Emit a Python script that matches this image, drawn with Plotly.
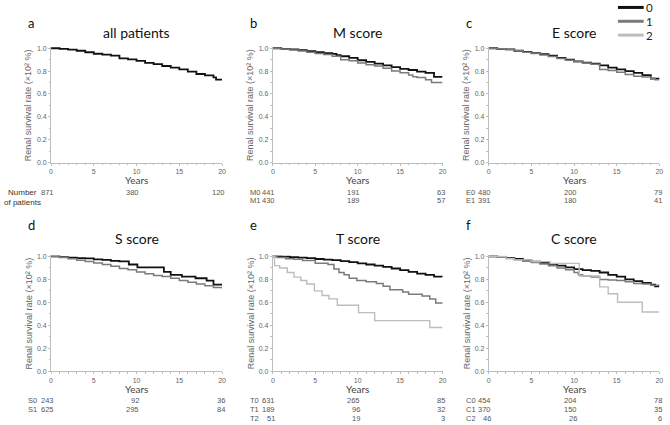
import plotly.graph_objects as go

W, H = 670, 425

# ---------------- data ----------------
years_ticks = [0, 5, 10, 15, 20]
risk_times = [0, 10, 20]

all_t = [0, 1, 2, 3, 4, 5, 6, 7, 8, 9, 10, 11, 12, 13, 14, 15, 16, 17, 18, 19, 19.3, 20]
all_s = [1.0, 0.995, 0.988, 0.978, 0.965, 0.952, 0.945, 0.935, 0.912, 0.902, 0.89, 0.872, 0.862, 0.845, 0.83, 0.815, 0.795, 0.775, 0.762, 0.745, 0.725, 0.725]

m0_t = [0, 1, 2, 3, 4, 5, 6, 7, 7.5, 8, 9, 10, 11, 12, 13, 14, 15, 16, 17, 18, 19, 20]
m0_s = [1, 0.995, 0.99, 0.983, 0.975, 0.965, 0.958, 0.95, 0.94, 0.93, 0.915, 0.895, 0.88, 0.865, 0.85, 0.835, 0.82, 0.81, 0.795, 0.785, 0.75, 0.75]
m1_t = [0, 1, 2, 3, 4, 5, 6, 7, 8, 9, 10, 11, 12, 13, 14, 15, 16, 16.5, 17, 18, 18.7, 20]
m1_s = [1, 0.993, 0.985, 0.975, 0.965, 0.955, 0.945, 0.93, 0.9, 0.89, 0.87, 0.855, 0.845, 0.825, 0.8, 0.785, 0.765, 0.75, 0.745, 0.725, 0.70, 0.70]

e0_t = [0, 1, 2, 3, 4, 5, 6, 7, 8, 9, 10, 11, 12, 13, 14, 15, 16, 17, 18, 19, 20]
e0_s = [1, 0.995, 0.99, 0.978, 0.968, 0.958, 0.948, 0.935, 0.915, 0.9, 0.885, 0.875, 0.865, 0.85, 0.83, 0.815, 0.8, 0.785, 0.765, 0.735, 0.73]
e1_t = [0, 1, 2, 3, 4, 5, 6, 7, 8, 9, 10, 11, 12, 13, 14, 15, 16, 17, 18, 19, 19.5, 20]
e1_s = [1, 0.995, 0.99, 0.978, 0.965, 0.955, 0.94, 0.928, 0.91, 0.895, 0.882, 0.87, 0.86, 0.815, 0.805, 0.79, 0.77, 0.755, 0.748, 0.738, 0.725, 0.725]

s0_t = [0, 1, 2, 3, 4, 5, 6, 7, 8, 9.1, 10.1, 11, 12, 13.2, 14, 15.3, 16.9, 18.2, 19, 20]
s0_s = [1, 0.995, 0.99, 0.985, 0.983, 0.975, 0.97, 0.962, 0.958, 0.93, 0.905, 0.905, 0.905, 0.865, 0.84, 0.825, 0.81, 0.79, 0.755, 0.755]
s1_t = [0, 1, 2, 3, 4, 5, 6, 7, 8, 9, 10, 11, 12, 13, 14, 15, 16, 17, 18, 19, 20]
s1_s = [1, 0.99, 0.98, 0.968, 0.955, 0.942, 0.93, 0.915, 0.895, 0.885, 0.865, 0.85, 0.835, 0.825, 0.81, 0.79, 0.775, 0.76, 0.745, 0.73, 0.72]

t0_t = [0, 1, 2, 3, 4, 5, 6, 7, 8, 9, 10, 11, 12, 13, 14, 15, 16, 17, 18, 19, 20]
t0_s = [1, 0.998, 0.995, 0.99, 0.985, 0.978, 0.972, 0.968, 0.96, 0.95, 0.94, 0.93, 0.92, 0.91, 0.895, 0.88, 0.865, 0.85, 0.84, 0.825, 0.82]
t1_t = [0, 0.5, 1.5, 2.5, 3.5, 5, 6.5, 7.2, 7.8, 8.4, 9, 9.9, 11, 12.2, 13, 13.8, 15.3, 16, 17.6, 18.5, 19.2, 20]
t1_s = [1, 0.99, 0.98, 0.975, 0.965, 0.94, 0.93, 0.89, 0.86, 0.84, 0.81, 0.79, 0.78, 0.765, 0.74, 0.71, 0.69, 0.67, 0.655, 0.63, 0.595, 0.59]
t2_t = [0, 0.2, 0.8, 1.7, 2.5, 3.3, 4.0, 4.9, 5.8, 6.6, 7.6, 10.1, 12.0, 18.5, 20]
t2_s = [1, 0.92, 0.90, 0.86, 0.82, 0.79, 0.76, 0.70, 0.66, 0.63, 0.575, 0.51, 0.44, 0.38, 0.38]

c0_t = [0, 1, 2, 3, 4, 5, 6, 7, 8, 9, 10, 11, 12, 13, 14, 15, 16, 17, 18, 19, 19.5, 20]
c0_s = [1, 0.995, 0.988, 0.978, 0.965, 0.955, 0.945, 0.935, 0.92, 0.905, 0.89, 0.88, 0.875, 0.86, 0.84, 0.825, 0.8, 0.785, 0.77, 0.755, 0.74, 0.74]
c1_t = [0, 1, 2, 3, 4, 5, 6, 7, 8, 9, 10, 10.5, 11, 12, 13, 14, 15, 16, 17, 18, 19, 20]
c1_s = [1, 0.993, 0.985, 0.972, 0.96, 0.948, 0.935, 0.92, 0.9, 0.885, 0.86, 0.84, 0.83, 0.82, 0.80, 0.795, 0.79, 0.78, 0.765, 0.76, 0.75, 0.745]
c2_t = [0, 2, 3, 5, 7.2, 10.6, 13, 14, 15.1, 18, 20]
c2_s = [1, 0.98, 0.97, 0.955, 0.94, 0.83, 0.735, 0.675, 0.60, 0.515, 0.515]

panel_letters = ["a", "b", "c", "d", "e", "f"]
panel_titles = ["all patients", "M score", "E score", "S score", "T score", "C score"]

risk_labels = [["Number"], ["M0", "M1"], ["E0", "E1"], ["S0", "S1"], ["T0", "T1", "T2"], ["C0", "C1", "C2"]]
risk_all = [[871, 380, 120]]
risk_m = [[441, 191, 63], [430, 189, 57]]
risk_e = [[480, 200, 79], [391, 180, 41]]
risk_s = [[243, 92, 36], [625, 295, 84]]
risk_tt = [[631, 265, 85], [189, 96, 32], [51, 19, 3]]
risk_c = [[454, 204, 78], [370, 150, 35], [46, 26, 6]]

legend_labels = ["0", "1", "2"]

# ---------------- styling ----------------
COLORS = ["#111111", "#7a7a7a", "#bdbdbd"]
WIDTHS = [1.8, 1.5, 1.4]
AXC = "#bdbdbd"
TXT = "#666666"
FONT = "Liberation Sans"
TFONT = "Lato"

cols = [(49.5, 222.0), (273.3, 444.5), (491.2, 663.3)]
rows = [(46.8, 162.5), (257.5, 373.5)]  # (px of 1.0, px of 0.0)
YTOP = 1.01

curves = [
    [(all_t, all_s)],
    [(m0_t, m0_s), (m1_t, m1_s)],
    [(e0_t, e0_s), (e1_t, e1_s)],
    [(s0_t, s0_s), (s1_t, s1_s)],
    [(t0_t, t0_s), (t1_t, t1_s), (t2_t, t2_s)],
    [(c0_t, c0_s), (c1_t, c1_s), (c2_t, c2_s)],
]
risks = [risk_all, risk_m, risk_e, risk_s, risk_tt, risk_c]

fig = go.Figure()
annotations = []
shapes = []
layout = {}


def ann(text, x, y, size, color, family, xanchor="center", xref="paper", xshift=0, angle=0):
    return dict(text=text, x=x, y=y, xref=xref, yref="paper", showarrow=False,
                xanchor=xanchor, yanchor="middle", xshift=xshift, textangle=angle,
                font=dict(size=size, color=color, family=family))


for i in range(6):
    r, c = divmod(i, 3)
    x0p, x1p = cols[c]
    y1p, y0p = rows[r]
    ytopp = y1p - (YTOP - 1.0) * (y0p - y1p)
    idx = "" if i == 0 else str(i + 1)
    xa, ya = "x" + idx, "y" + idx
    layout["xaxis" + idx] = dict(
        domain=[x0p / W, x1p / W], anchor=ya, range=[0, 20],
        showline=True, linecolor=AXC, linewidth=1, ticks="outside", ticklen=2,
        tickcolor=AXC, tickvals=years_ticks, tickfont=dict(size=7, color=TXT, family=FONT),
        minor=dict(ticks="outside", ticklen=1.5, tickcolor=AXC, dtick=1),
        showgrid=False, zeroline=False, fixedrange=True,
    )
    layout["yaxis" + idx] = dict(
        domain=[1 - y0p / H, 1 - ytopp / H], anchor=xa, range=[0, YTOP],
        showline=True, linecolor=AXC, linewidth=1, ticks="outside", ticklen=2,
        tickcolor=AXC, tickvals=[0, 0.2, 0.4, 0.6, 0.8, 1.0], tickformat=".1f",
        tickfont=dict(size=7, color=TXT, family=FONT),
        minor=dict(ticks="outside", ticklen=1.5, tickcolor=AXC, dtick=0.1),
        showgrid=False, zeroline=False, fixedrange=True,
    )
    for k, (tt, ss) in enumerate(curves[i]):
        fig.add_trace(go.Scatter(
            x=tt, y=ss, mode="lines", line=dict(shape="hv", color=COLORS[k], width=WIDTHS[k]),
            xaxis=xa, yaxis=ya, showlegend=False, hoverinfo="skip",
        ))
    xmid = (x0p + x1p) / 2
    annotations.append(ann(panel_titles[i], xmid / W, 1 - (31 if r == 0 else 239) / H, 14, "#111", TFONT))
    annotations.append(ann(panel_letters[i], (x0p - 20) / W, 1 - (21 if r == 0 else 226) / H, 13, "#111", TFONT))
    annotations.append(ann("Years", xmid / W, 1 - (180.5 if r == 0 else 391.5) / H, 10, "#444", TFONT))
    annotations.append(ann("Renal survival rate (×10² %)", (x0p - 22.5) / W, 1 - ((y0p + y1p) / 2) / H,
                           9, TXT, FONT, angle=-90))
    row_ys = [192.7, 201.3] if r == 0 else [403, 412.3, 421.6]
    for k, vals in enumerate(risks[i]):
        yy = 1 - row_ys[k] / H
        for tv, v in zip(risk_times, vals):
            annotations.append(ann(str(v), tv, yy, 7.5, "#555", FONT, xanchor="right", xref=xa, xshift=4.5))
        if i > 0:
            annotations.append(ann(risk_labels[i][k], (x0p - 25) / W, yy, 7.5, "#555", FONT, xanchor="left"))

annotations.append(ann("Number", 21 / W, 1 - 192.7 / H, 8, "#333", FONT))
annotations.append(ann("of patients", 21 / W, 1 - 202.5 / H, 8, "#333", FONT))

leg_y = [5.5, 19.5, 33.5]
for k, lab in enumerate(legend_labels):
    yy = 1 - leg_y[k] / H
    shapes.append(dict(type="line", xref="paper", yref="paper", x0=621.5 / W, x1=647.5 / W,
                       y0=yy, y1=yy, line=dict(color=COLORS[k], width=3)))
    annotations.append(ann(lab, 648 / W, yy, 11.5, "#222", TFONT, xanchor="left"))

fig.update_layout(
    width=W, height=H, margin=dict(l=0, r=0, t=0, b=0),
    paper_bgcolor="white", plot_bgcolor="white",
    annotations=annotations, shapes=shapes, showlegend=False,
    **layout,
)

fig.write_html("out.html", config={"displayModeBar": False},
               post_script="document.body.style.margin='0';document.body.style.overflow='hidden';")
